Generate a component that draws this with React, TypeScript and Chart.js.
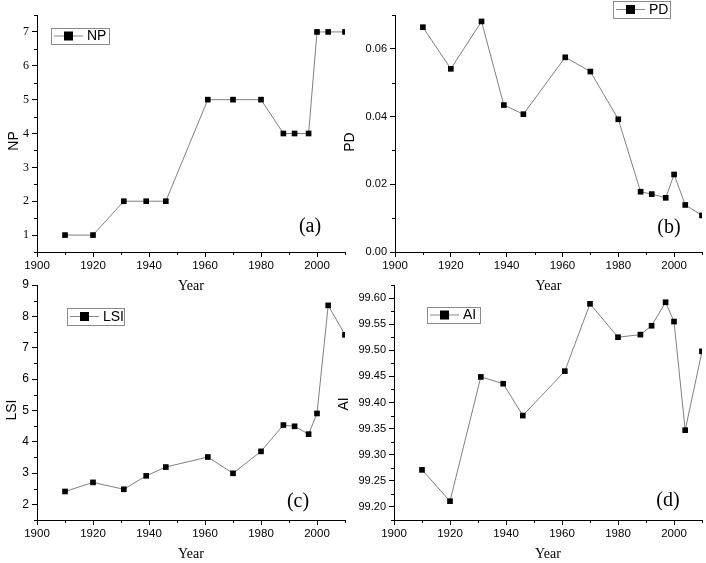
import { useEffect, useRef } from "react";
import { Chart, registerables } from "chart.js";

Chart.register(...registerables);

// ---------------- data ----------------
const years = [1910, 1920, 1931, 1939, 1946, 1961, 1970, 1980, 1988, 1992, 1997, 2000, 2004, 2010];
const npValues = [1, 1, 2, 2, 2, 5, 5, 5, 4, 4, 4, 7, 7, 7];
const pdValues = [0.0664, 0.0541, 0.0681, 0.0434, 0.0407, 0.0575, 0.0533, 0.0392, 0.0178, 0.0171, 0.016, 0.0229, 0.0139, 0.0108];
const lsiValues = [2.41, 2.7, 2.48, 2.91, 3.19, 3.51, 2.99, 3.69, 4.53, 4.49, 4.24, 4.9, 8.35, 7.41];
const aiValues = [99.271, 99.211, 99.449, 99.436, 99.375, 99.46, 99.589, 99.525, 99.53, 99.547, 99.592, 99.555, 99.347, 99.498];

const yearTicks = [1900, 1920, 1940, 1960, 1980, 2000];
const npTicks = [1, 2, 3, 4, 5, 6, 7];
const pdTicks = [0, 0.02, 0.04, 0.06];
const lsiTicks = [2, 3, 4, 5, 6, 7, 8, 9];
const aiTicks = [99.2, 99.25, 99.3, 99.35, 99.4, 99.45, 99.5, 99.55, 99.6];

// ---------------- layout ----------------
const W = 706;
const H = 563;
const X_H = 43;
const SANS = "Arial, 'Liberation Sans', sans-serif";
const SERIF = "'Liberation Serif', 'Times New Roman', serif";

type Panel = {
  label: string;
  values: number[];
  ticks: number[];
  yMin: number;
  yMax: number;
  decimals: number;
  area: { l: number; t: number; r: number; b: number };
  yW: number;
  titlePos: { x: number; y: number };
  legend: { x: number; y: number; w: number; h: number };
  tag: string;
  tagPos: { x: number; y: number };
  tickFamily: string;
  tickSize: number;
};

const panels: Panel[] = [
  {
    label: "NP", values: npValues, ticks: npTicks, yMin: 0.5, yMax: 7.5, decimals: 0,
    area: { l: 37, t: 15, r: 345, b: 252 }, yW: 32, titlePos: { x: 14, y: 141 },
    legend: { x: 51, y: 28, w: 58, h: 16 }, tag: "(a)", tagPos: { x: 310, y: 227 },
    tickFamily: SERIF, tickSize: 12,
  },
  {
    label: "PD", values: pdValues, ticks: pdTicks, yMin: 0, yMax: 0.07, decimals: 2,
    area: { l: 395, t: 15, r: 702, b: 252 }, yW: 53, titlePos: { x: 350, y: 142 },
    legend: { x: 613, y: 1, w: 57, h: 17 }, tag: "(b)", tagPos: { x: 669, y: 228 },
    tickFamily: SANS, tickSize: 11,
  },
  {
    label: "LSI", values: lsiValues, ticks: lsiTicks, yMin: 1.5, yMax: 9, decimals: 0,
    area: { l: 37, t: 285, r: 345, b: 520 }, yW: 34, titlePos: { x: 12, y: 410 },
    legend: { x: 67, y: 308, w: 57, h: 17 }, tag: "(c)", tagPos: { x: 298, y: 502 },
    tickFamily: SANS, tickSize: 12,
  },
  {
    label: "AI", values: aiValues, ticks: aiTicks, yMin: 99.175, yMax: 99.625, decimals: 2,
    area: { l: 394, t: 285, r: 702, b: 520 }, yW: 46, titlePos: { x: 344, y: 404 },
    legend: { x: 427, y: 307, w: 53, h: 16 }, tag: "(d)", tagPos: { x: 668, y: 501 },
    tickFamily: SANS, tickSize: 11,
  },
];

function minorValues(ticks: number[], min: number, max: number): number[] {
  const step = ticks[1] - ticks[0];
  const out: number[] = [];
  for (let v = ticks[0] - step / 2; v <= max + 1e-9; v += step) {
    if (v >= min - 1e-9) out.push(v);
  }
  return out;
}

function makeChart(canvas: HTMLCanvasElement, p: Panel) {
  const decorPlugin = {
    id: "decor" + p.label,
    afterDraw(chart: any) {
      const ctx = chart.ctx as CanvasRenderingContext2D;
      const xs = chart.scales.x;
      const ys = chart.scales.y;
      ctx.save();
      // minor ticks
      ctx.strokeStyle = "#000";
      ctx.lineWidth = 1;
      ctx.beginPath();
      for (const v of minorValues(yearTicks, 1900, 2010)) {
        const px = Math.round(xs.getPixelForValue(v)) + 0.5;
        ctx.moveTo(px, ys.bottom);
        ctx.lineTo(px, ys.bottom + 3);
      }
      for (const v of minorValues(p.ticks, p.yMin, p.yMax)) {
        const py = Math.round(ys.getPixelForValue(v)) + 0.5;
        ctx.moveTo(xs.left, py);
        ctx.lineTo(xs.left - 3, py);
      }
      ctx.stroke();

      // y axis title
      ctx.save();
      ctx.translate(p.titlePos.x, p.titlePos.y);
      ctx.rotate(-Math.PI / 2);
      ctx.fillStyle = "#000";
      ctx.font = "14px " + SANS;
      ctx.textAlign = "center";
      ctx.textBaseline = "middle";
      ctx.fillText(p.label, 0, 0);
      ctx.restore();

      // legend
      const L = p.legend;
      const cy = L.y + L.h / 2;
      ctx.fillStyle = "#fff";
      ctx.fillRect(L.x, L.y, L.w, L.h);
      ctx.strokeStyle = "#8a8a8a";
      ctx.strokeRect(L.x + 0.5, L.y + 0.5, L.w, L.h);
      ctx.strokeStyle = "#888";
      ctx.beginPath();
      ctx.moveTo(L.x + 3, cy);
      ctx.lineTo(L.x + 32, cy);
      ctx.stroke();
      ctx.fillStyle = "#000";
      ctx.fillRect(L.x + 17.5 - 4.5, cy - 4.5, 9, 9);
      ctx.font = "14px " + SANS;
      ctx.textBaseline = "middle";
      ctx.textAlign = "left";
      ctx.fillText(p.label, L.x + 36, cy + 0.5);

      // panel tag
      ctx.font = "20px " + SERIF;
      ctx.textAlign = "center";
      ctx.fillText(p.tag, p.tagPos.x, p.tagPos.y);
      ctx.restore();
    },
  };

  return new Chart(canvas, {
    type: "line",
    data: {
      datasets: [
        {
          label: p.label,
          data: years.map((x, i) => ({ x, y: p.values[i] })),
          borderColor: "#808080",
          borderWidth: 1,
          pointStyle: "rect",
          pointRadius: 4,
          pointBorderWidth: 0,
          pointBackgroundColor: "#000",
          pointBorderColor: "#000",
          tension: 0,
        },
      ],
    },
    options: {
      animation: false,
      responsive: false,
      maintainAspectRatio: false,
      events: [],
      layout: {
        padding: {
          left: p.area.l - p.yW,
          top: p.area.t,
          right: W - p.area.r,
          bottom: H - p.area.b - X_H,
        },
      },
      plugins: { legend: { display: false }, tooltip: { enabled: false } },
      scales: {
        x: {
          type: "linear",
          min: 1900,
          max: 2010,
          afterBuildTicks: (s: any) => {
            s.ticks = yearTicks.map((v) => ({ value: v }));
          },
          afterFit: (s: any) => {
            s.height = X_H;
          },
          grid: { display: true, drawOnChartArea: false, drawTicks: true, tickLength: 5, tickColor: "#000", tickWidth: 1 },
          border: { display: true, color: "#000", width: 1 },
          ticks: {
            font: { family: SANS, size: 11.5 },
            color: "#000",
            padding: 2,
            maxRotation: 0,
            autoSkip: false,
            callback: (v: any) => String(v),
          },
          title: { display: true, text: "Year", font: { family: SERIF, size: 14 }, color: "#000", padding: 0 },
        },
        y: {
          type: "linear",
          min: p.yMin,
          max: p.yMax,
          afterBuildTicks: (s: any) => {
            s.ticks = p.ticks.map((v) => ({ value: v }));
          },
          afterFit: (s: any) => {
            s.width = p.yW;
          },
          grid: { display: true, drawOnChartArea: false, drawTicks: true, tickLength: 5, tickColor: "#000", tickWidth: 1 },
          border: { display: true, color: "#000", width: 1 },
          ticks: {
            font: { family: p.tickFamily, size: p.tickSize },
            color: "#000",
            padding: 3,
            autoSkip: false,
            callback: (v: any) => Number(v).toFixed(p.decimals),
          },
          title: { display: false },
        },
      },
    } as any,
    plugins: [decorPlugin],
  });
}

function PanelCanvas({ p }: { p: Panel }) {
  const ref = useRef<HTMLCanvasElement | null>(null);
  useEffect(() => {
    if (!ref.current) return;
    const chart = makeChart(ref.current, p);
    return () => chart.destroy();
  }, [p]);
  return (
    <canvas
      ref={ref}
      width={W}
      height={H}
      style={{ position: "absolute", left: 0, top: 0, width: W, height: H }}
    />
  );
}

export default function App() {
  return (
    <div style={{ position: "fixed", left: 0, top: 0, width: W, height: H, background: "#fff", overflow: "hidden" }}>
      {panels.map((p) => (
        <PanelCanvas key={p.label} p={p} />
      ))}
    </div>
  );
}
